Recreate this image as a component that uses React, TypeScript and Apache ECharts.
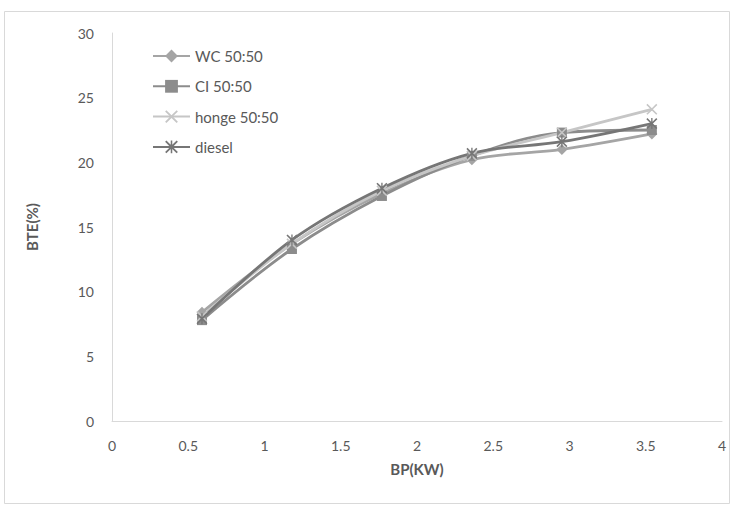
import React, { useEffect, useRef } from "react";
import * as echarts from "echarts";

const bp = [0.59, 1.18, 1.77, 2.36, 2.95, 3.54];
const wc = [8.4, 13.7, 17.6, 20.2, 21.0, 22.2];
const ci = [7.8, 13.3, 17.4, 20.5, 22.3, 22.5];
const honge = [8.1, 13.7, 17.8, 20.5, 22.3, 24.1];
const diesel = [7.9, 14.0, 18.0, 20.7, 21.6, 23.0];
const seriesNames = ["WC 50:50", "CI 50:50", "honge 50:50", "diesel"];

const X_PATH =
  "path://M0,1 L1,0 L5,4 L9,0 L10,1 L6,5 L10,9 L9,10 L5,6 L1,10 L0,9 L4,5 Z";
const STAR_PATH =
  "path://M0,1 L1,0 L5,4 L9,0 L10,1 L6,5 L10,9 L9,10 L5,6 L1,10 L0,9 L4,5 Z M4.4,0 L5.6,0 L5.6,10 L4.4,10 Z";

const FONT = "Lato, 'Open Sans', sans-serif";

export default function App() {
  const ref = useRef<HTMLDivElement>(null);
  useEffect(() => {
    document.body.style.margin = "0";
    const chart = echarts.init(ref.current!, null, { renderer: "svg" });
    const mk = (name: string, vals: number[], color: string, symbol: string, size: number) => ({
      name,
      type: "line",
      data: bp.map((x, i) => [x, vals[i]]),
      smooth: 0.35,
      symbol,
      symbolSize: size,
      showSymbol: true,
      lineStyle: { color, width: 2.8 },
      itemStyle: { color },
    });
    chart.setOption({
      animation: false,
      backgroundColor: "#ffffff",
      graphic: [
        {
          type: "rect",
          shape: { x: 4.5, y: 11.5, width: 725, height: 492 },
          style: { fill: "none", stroke: "#d9d9d9", lineWidth: 1 },
          silent: true,
        },
      ],
      grid: { left: 112, right: 9, top: 33, bottom: 85 },
      legend: {
        orient: "vertical",
        left: 147,
        top: 43,
        itemWidth: 37,
        itemHeight: 16,
        itemGap: 14.3,
        data: seriesNames,
        textStyle: { color: "#595959", fontSize: 15, fontFamily: FONT, lineHeight: 16 },
      },
      xAxis: {
        type: "value",
        min: 0,
        max: 4,
        interval: 0.5,
        name: "BP(KW)",
        nameLocation: "middle",
        nameGap: 40,
        nameTextStyle: { color: "#595959", fontSize: 15, fontWeight: "bold", fontFamily: FONT },
        axisLine: { show: true, lineStyle: { color: "#d9d9d9", width: 1 } },
        axisTick: { show: false },
        splitLine: { show: false },
        axisLabel: {
          color: "#595959",
          fontSize: 14,
          fontFamily: FONT,
          margin: 17,
          formatter: (v: number) => String(v),
        },
      },
      yAxis: {
        type: "value",
        min: 0,
        max: 30,
        interval: 5,
        name: "BTE(%)",
        nameLocation: "middle",
        nameGap: 73,
        nameTextStyle: { color: "#595959", fontSize: 15, fontWeight: "bold", fontFamily: FONT },
        axisLine: { show: true, lineStyle: { color: "#d9d9d9", width: 1 } },
        axisTick: { show: false },
        splitLine: { show: false },
        axisLabel: { color: "#595959", fontSize: 14, fontFamily: FONT, margin: 18 },
      },
      series: [
        mk(seriesNames[0], wc, "#a5a5a5", "diamond", 11),
        mk(seriesNames[1], ci, "#8c8c8c", "rect", 10),
        mk(seriesNames[2], honge, "#c6c6c6", X_PATH, 11),
        mk(seriesNames[3], diesel, "#767676", STAR_PATH, 11),
      ],
    });
    return () => chart.dispose();
  }, []);
  return <div ref={ref} style={{ width: 731, height: 506 }} />;
}
